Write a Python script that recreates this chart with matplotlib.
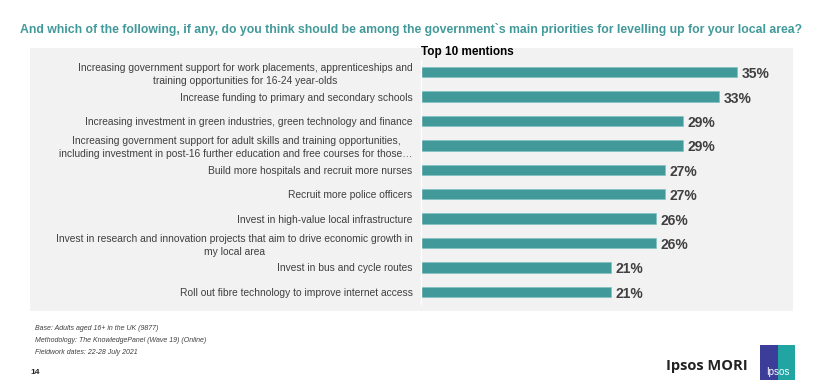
import matplotlib.pyplot as plt
from matplotlib.patches import Rectangle

plt.rcParams['font.family'] = ['Liberation Sans', 'DejaVu Sans']

labels = [
    'Increasing government support for work placements, apprenticeships and\ntraining opportunities for 16-24 year-olds',
    'Increase funding to primary and secondary schools',
    'Increasing investment in green industries, green technology and finance',
    'Increasing government support for adult skills and training opportunities,\nincluding investment in post-16 further education and free courses for those\u2026',
    'Build more hospitals and recruit more nurses',
    'Recruit more police officers',
    'Invest in high-value local infrastructure',
    'Invest in research and innovation projects that aim to drive economic growth in\nmy local area',
    'Invest in bus and cycle routes',
    'Roll out fibre technology to improve internet access',
]
values = [35, 33, 29, 29, 27, 27, 26, 26, 21, 21]

W, H = 823, 391
fig = plt.figure(figsize=(W / 100, H / 100), dpi=100)
fig.patch.set_facecolor('white')

teal = '#42999a'
grey_txt = '#404040'

# background axes for the grey panel and the logo
bg = fig.add_axes([0, 0, 1, 1], zorder=-1)
bg.set_xlim(0, W)
bg.set_ylim(H, 0)
bg.axis('off')
bg.add_patch(Rectangle((30, 48), 763, 263, facecolor='#f2f2f2', edgecolor='none'))
bg.add_patch(Rectangle((760, 345), 35, 35, facecolor='#3c3d98', edgecolor='none'))
bg.add_patch(Rectangle((778, 345), 17, 35, facecolor='#20a5a2', edgecolor='none'))

ax = fig.add_axes([421 / W, 1 - 304 / H, 361 / W, 244 / H])
ax.set_facecolor('none')
y = list(range(len(values)))
ax.barh(y, values, height=0.42, color=teal, edgecolor='#7fc3c2', linewidth=0.5)
ax.set_xlim(0, 40)
ax.set_ylim(len(values) - 0.5, -0.5)
for i, v in enumerate(values):
    ax.text(v + 0.55, i + 0.08, f'{v}%', ha='left', va='center', fontsize=10,
            fontweight='bold', color=grey_txt)
ax.set_yticks(y)
ax.set_yticklabels(labels, fontsize=7.4, color=grey_txt, multialignment='center',
                   linespacing=1.35)
ax.tick_params(axis='y', length=0, pad=6)
ax.set_xticks([])
for s in ['top', 'right', 'bottom']:
    ax.spines[s].set_visible(False)
ax.spines['left'].set_color('#ffffff')
ax.spines['left'].set_linewidth(1)

ax.text(0, 1.01, 'Top 10 mentions', transform=ax.transAxes, ha='left', va='bottom',
        fontsize=8.5, fontweight='bold', color='black')

fig.text(411 / W, 1 - 29 / H,
         'And which of the following, if any, do you think should be among the government`s main priorities for levelling up for your local area?',
         ha='center', va='center', fontsize=8.85, fontweight='bold', color=teal)

foot = ['Base: Adults aged 16+ in the UK (9877)',
        'Methodology: The KnowledgePanel (Wave 19) (Online)',
        'Fieldwork dates: 22-28 July 2021']
for k, t in enumerate(foot):
    fig.text(35 / W, 1 - (328 + 12 * k) / H, t, ha='left', va='center',
             fontsize=5.0, style='italic', color=grey_txt)
fig.text(30 / W, 1 - 372 / H, '14', ha='left', va='center', fontsize=6,
         fontweight='bold', color='#222222')

fig.text(748 / W, 1 - 366 / H, 'Ipsos MORI', ha='right', va='center',
         fontsize=10.5, fontweight='bold', color='#222222',
         family=['Open Sans', 'DejaVu Sans'])
fig.text(777.5 / W, 1 - 372 / H, 'Ipsos', ha='center', va='center', fontsize=7,
         color='white')

fig.savefig('out.png', dpi=100)
